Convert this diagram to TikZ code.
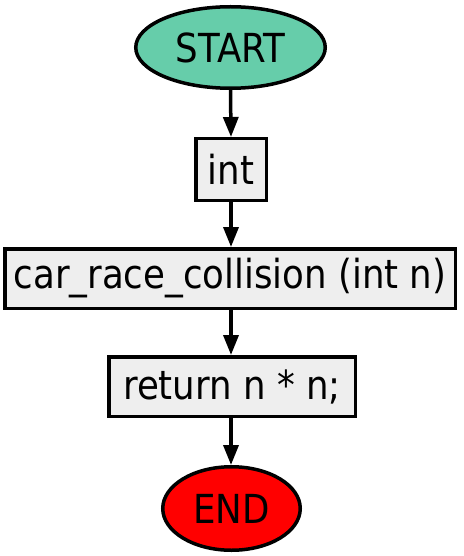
\documentclass[tikz,border=0pt]{standalone}
\usepackage{fontspec}
\setmainfont[FakeStretch=0.89]{DejaVu Sans}
\usetikzlibrary{arrows.meta,shapes.geometric}
\definecolor{startc}{HTML}{66CDAA}
\definecolor{boxc}{HTML}{EEEEEE}
\definecolor{endc}{HTML}{FF0000}
\tikzset{
  base/.style={draw=black, line width=3.5pt, inner sep=0pt, font=\fontsize{40}{48}\selectfont, text=black},
  term/.style={base, ellipse},
  stepbox/.style={base, rectangle},
  conn/.style={line width=3.5pt, -{Triangle[length=20pt,width=15pt]}}
}
\begin{document}
\begin{tikzpicture}[x=1pt,y=-1pt]
\useasboundingbox (0,0) rectangle (463,556);
\node[term, fill=startc, minimum width=189.5pt, minimum height=81.5pt] (start) at (230.5,47.5) {START};
\node[stepbox, fill=boxc, minimum width=70.5pt, minimum height=61.5pt] (int) at (231,169.5) {int};
\node[stepbox, fill=boxc, minimum width=450.5pt, minimum height=59.5pt] (car) at (230,278.5) {car\_race\_collision (int n)};
\node[stepbox, fill=boxc, minimum width=246.5pt, minimum height=59.5pt] (ret) at (232,386.5) {return n * n;};
\node[term, fill=endc, minimum width=137.5pt, minimum height=83.5pt] (end) at (231.5,508.5) {END};
\draw[conn] (start.south) -- (int.north);
\draw[conn] (int.south) -- (int.south |- car.north);
\draw[conn] (int.south |- car.south) -- (int.south |- ret.north);
\draw[conn] (int.south |- ret.south) -- (int.south |- end.north);
\end{tikzpicture}
\end{document}
